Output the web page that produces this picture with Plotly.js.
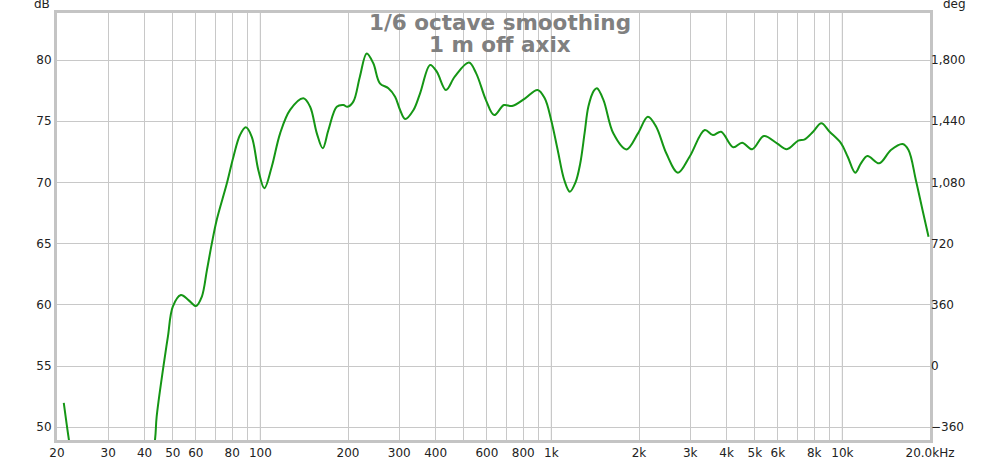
<!DOCTYPE html>
<html>
<head>
<meta charset="utf-8">
<script src="https://cdn.plot.ly/plotly-3.0.1.min.js"></script>
<style>html,body{margin:0;padding:0;background:#fff;}#chart{width:1000px;height:461px;}</style>
</head>
<body>
<div id="chart"></div>
<script>
// Frequency (Hz) and SPL (dB)
var freq = [21.1, 22.0, 23, 26, 30, 35, 40, 43.4, 44.0, 46.4, 48.1, 50.0, 53.3, 56.6, 60.1, 62.9, 65.5, 68.1, 70.8, 76.7, 80.8, 85.1, 89.1, 93.4, 98.4, 103.2, 109.4, 116.9, 126.5, 140.5, 148.2, 156.3, 163.8, 171.3, 183.0, 192.9, 199.1, 208.6, 219.7, 231.9, 244.3, 257.4, 275.3, 290.3, 302, 314.3, 335.8, 353.8, 383.1, 403.7, 434.1, 465.5, 520.7, 551.5, 595.8, 635.7, 686.8, 732.4, 812.7, 896.2, 948.6, 998, 1051, 1107, 1157, 1210, 1255, 1300, 1340, 1400, 1434, 1510, 1632, 1811, 1984, 2145, 2291, 2482, 2722, 2984, 3364, 3589, 3829, 4216, 4522, 4899, 5374, 5962, 6441, 7050, 7424, 7929, 8466, 9037, 9897, 10430, 11070, 11580, 12190, 13380, 14680, 16100, 16870, 17880, 18850, 19770];
var spl = [52.0, 48.9, 46, 42, 40, 40.5, 44, 48.9, 50.86, 54.94, 57.4, 59.85, 60.8, 60.39, 59.9, 60.66, 62.84, 65.02, 66.95, 69.93, 72.1, 73.87, 74.5, 73.73, 71.0, 69.52, 71.28, 74.01, 75.92, 76.87, 76.18, 74.01, 72.79, 74.28, 76.18, 76.32, 76.18, 76.6, 78.64, 80.54, 79.73, 78.1, 77.69, 77.0, 75.92, 75.18, 75.92, 77.28, 79.59, 79.05, 77.55, 78.64, 79.79, 78.91, 76.73, 75.5, 76.32, 76.24, 76.87, 77.55, 76.87, 75.1, 72.65, 70.2, 69.24, 70.0, 71.5, 74.0, 76.2, 77.5, 77.69, 76.73, 74.01, 72.7, 74.01, 75.37, 74.55, 72.38, 70.8, 72.1, 74.28, 73.87, 74.14, 72.87, 73.25, 72.71, 73.79, 73.19, 72.71, 73.41, 73.52, 74.14, 74.83, 74.14, 73.19, 72.1, 70.8, 71.56, 72.16, 71.56, 72.65, 73.14, 72.65, 70.2, 67.75, 65.57];

var xTickVals = [20, 30, 40, 50, 60, 80, 100, 200, 300, 400, 600, 800, 1000, 2000, 3000, 4000, 5000, 6000, 8000, 10000, 20000];
var xTickText = ["20", "30", "40", "50", "60", "80", "100", "200", "300", "400", "600", "800", "1k", "2k", "3k", "4k", "5k", "6k", "8k", "10k", "20.0kHz"];
var xMinorVals = [70, 90, 500, 700, 900, 7000, 9000];
var xDecades = [100, 1000, 10000];
var yTickVals = [50, 55, 60, 65, 70, 75, 80];
var degTickVals = [-360, 0, 360, 720, 1080, 1440, 1800];
var titleLines = ["1/6 octave smoothing", "1 m off axix"];

var tickFont = {family: "DejaVu Sans", size: 12, color: "#222"};
var gridCol = "#c8c8c8";

var traces = [
  {x: freq, y: spl, type: "scatter", mode: "lines",
   line: {color: "#159615", width: 2, shape: "spline", smoothing: 1},
   hoverinfo: "skip", showlegend: false},
  {x: [], y: [], type: "scatter", mode: "lines", yaxis: "y2", showlegend: false, hoverinfo: "skip"}
];

var shapes = xDecades.map(function (f) {
  return {type: "line", xref: "x", yref: "paper", x0: f, x1: f, y0: 0, y1: 1,
          line: {color: "#8a8a8a", width: 1}, layer: "between"};
});

var annotations = [
  {text: titleLines[0], xref: "paper", yref: "paper", x: 0.507, y: 0.9775, xanchor: "center", yanchor: "middle",
   showarrow: false, font: {family: "DejaVu Sans", size: 21.5, color: "#808080", weight: "bold"}},
  {text: titleLines[1], xref: "paper", yref: "paper", x: 0.507, y: 0.9268, xanchor: "center", yanchor: "middle",
   showarrow: false, font: {family: "DejaVu Sans", size: 21.5, color: "#808080", weight: "bold"}},
  {text: "dB", xref: "paper", yref: "paper", x: -0.0172, y: 1.021, xanchor: "center", yanchor: "middle",
   showarrow: false, font: tickFont},
  {text: "deg", xref: "paper", yref: "paper", x: 1.0126, y: 1.021, xanchor: "left", yanchor: "middle",
   showarrow: false, font: tickFont}
];

var layout = {
  width: 1000, height: 461,
  margin: {l: 57, r: 70, t: 13, b: 21, pad: 0},
  paper_bgcolor: "#ffffff", plot_bgcolor: "#ffffff",
  showlegend: false,
  xaxis: {type: "log", range: [Math.log10(20), Math.log10(20000)],
          tickmode: "array", tickvals: xTickVals, ticktext: xTickText,
          showgrid: true, gridcolor: gridCol, gridwidth: 1, ticks: "",
          tickfont: tickFont, zeroline: false,
          showline: true, linecolor: "#c4c4c4", linewidth: 3, mirror: true,
          minor: {tickmode: "array", tickvals: xMinorVals, showgrid: true, gridcolor: gridCol, gridwidth: 1, ticks: ""}},
  yaxis: {range: [48.96, 83.84], tickmode: "array", tickvals: yTickVals,
          showgrid: true, gridcolor: gridCol, gridwidth: 1, ticks: "",
          tickfont: tickFont, zeroline: false,
          showline: true, linecolor: "#c4c4c4", linewidth: 3, mirror: true},
  yaxis2: {overlaying: "y", side: "right", range: [-435, 2076.5], tickmode: "array", tickvals: degTickVals,
           tickformat: ",d", showgrid: false, zeroline: false, ticks: "", tickfont: tickFont, showline: false},
  shapes: shapes,
  annotations: annotations
};

Plotly.newPlot("chart", traces, layout, {staticPlot: true, displayModeBar: false});
</script>
</body>
</html>
